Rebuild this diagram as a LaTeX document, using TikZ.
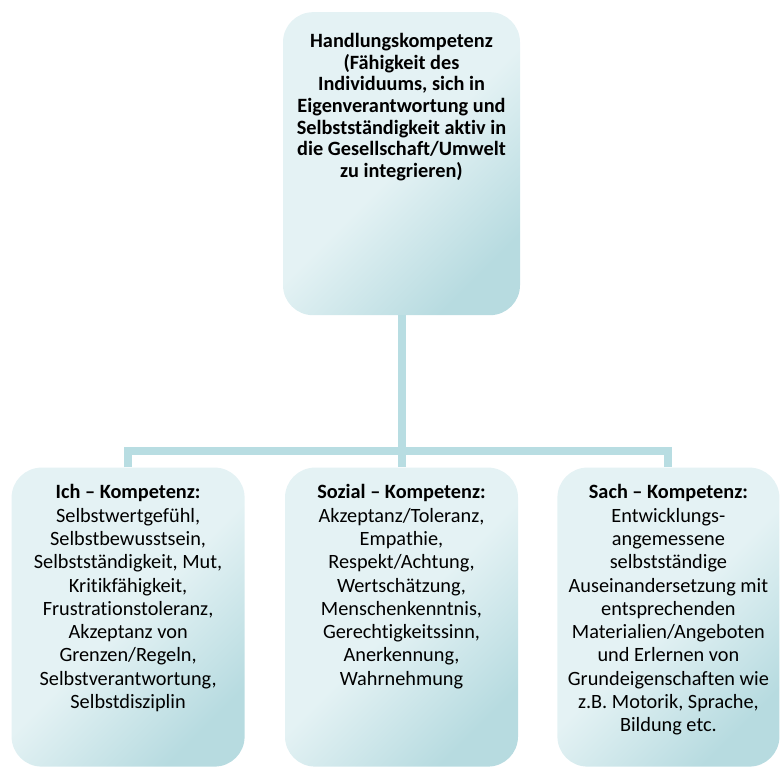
\documentclass[tikz,border=0pt]{standalone}
\usepackage{fontspec}
\setmainfont{Carlito}[Ligatures=NoCommon]
\usetikzlibrary{positioning}
\definecolor{boxlight}{RGB}{228,242,244}
\definecolor{boxdark}{RGB}{183,219,224}
\definecolor{linkcol}{RGB}{184,221,226}
\tikzset{
        x=1pt, y=1pt, % one unit is one pixel of the layout
        kbox/.style 2 args={rounded corners=30pt, % box with text at its top
            top color=boxlight, bottom color=boxdark, middle color=boxlight,
            shading angle=45, inner xsep=4pt, inner ysep=17pt,
            font=\fontsize{20.3}{23.3}\selectfont,
            execute at begin node={\begin{minipage}[t][\dimexpr#2-34pt\relax][t]{\dimexpr#1-8pt\relax}\centering},
            execute at end node={\par\end{minipage}}},
        link/.style={draw=linkcol, line width=8pt}, % connector lines
        node distance=40pt, % gap between two boxes
    }

\begin{document}
\begin{tikzpicture}
    \useasboundingbox (0,0) rectangle (781,767);
    \node[kbox={237pt}{295pt}, inner ysep=21pt, anchor=north, font=\fontsize{20.3}{21.7}\selectfont\bfseries] (hk) at (401.5,755)
      {Handlungskompetenz\\(Fähigkeit des\\Individuums, sich in\\Eigenverantwortung und\\Selbstständigkeit aktiv in\\die Gesellschaft/Umwelt\\zu integrieren)};
    \node[kbox={233pt}{299pt}, below=152pt of hk] (sozial)
      {\textbf{Sozial – Kompetenz:}\\Akzeptanz/Toleranz,\\Empathie,\\Respekt/Achtung,\\Wertschätzung,\\Menschenkenntnis,\\Gerechtigkeitssinn,\\Anerkennung,\\Wahrnehmung};
    \node[kbox={233pt}{299pt}, left=of sozial] (ich)
      {\textbf{Ich – Kompetenz:}\\Selbstwertgefühl,\\Selbstbewusstsein,\\Selbstständigkeit, Mut,\\Kritikfähigkeit,\\Frustrationstoleranz,\\Akzeptanz von\\Grenzen/Regeln,\\Selbstverantwortung,\\Selbstdisziplin};
    \node[kbox={222pt}{299pt}, right=39pt of sozial] (sach)
      {\textbf{Sach – Kompetenz:}\\Entwicklungs-\\angemessene\\selbstständige\\Auseinandersetzung mit\\entsprechenden\\Materialien/Angeboten\\und Erlernen von\\Grundeigenschaften wie\\z.B. Motorik, Sprache,\\Bildung etc.};
    \draw[link] (hk.south) -- (sozial.north);
    \draw[link] (ich.north) -- ++(0,16) -| (sach.north);
\end{tikzpicture}
\end{document}
